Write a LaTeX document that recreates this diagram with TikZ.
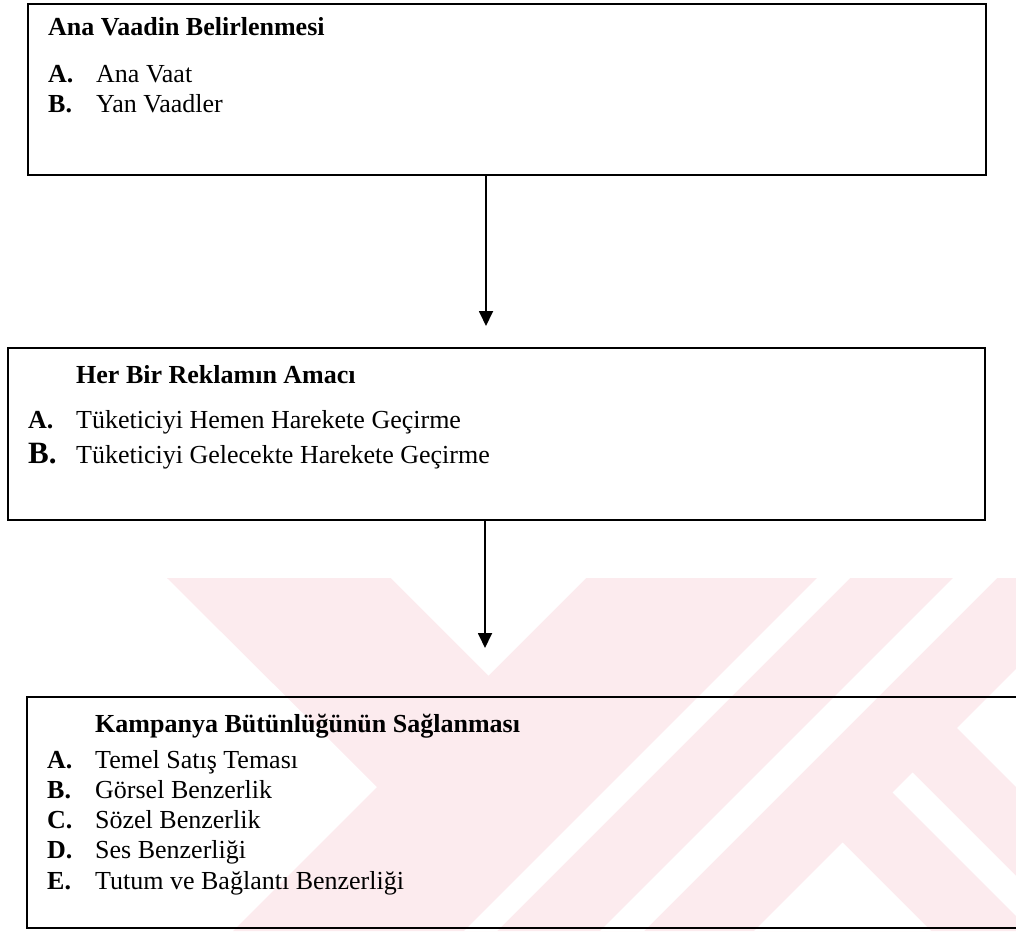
\documentclass[tikz,border=0pt]{standalone}
\usepackage{fontspec}
\setmainfont{Liberation Serif}
\usetikzlibrary{arrows.meta}
\definecolor{wm}{RGB}{252,235,238}
\begin{document}
\begin{tikzpicture}[x=1pt,y=-1pt,
  box/.style={draw=black, line width=1.8pt, inner sep=0pt, anchor=north west},
  lbl/.style={anchor=base west, inner sep=0pt, font=\fontsize{26}{30}\selectfont},
  ttl/.style={anchor=base west, inner sep=0pt, font=\fontsize{26}{30}\selectfont\bfseries},
  big/.style={anchor=base west, inner sep=0pt, font=\fontsize{31}{34}\selectfont\bfseries},
  conn/.style={line width=1.8pt, -{Triangle[width=14pt,length=15pt]}}]
\useasboundingbox (0,0) rectangle (1016,931);
\clip (0,0) rectangle (1016,931);
% watermark
\fill[wm] (167,578) -- (1016,578) -- (1016,931) -- (233,931) -- (377,787) -- cycle;
\fill[white] (391,578) -- (586,578) -- (488.5,675.5) -- cycle;
\fill[white] (817,578) -- (850,578) -- (497,931) -- (464,931) -- cycle;
\fill[white] (953,578) -- (997,578) -- (644,931) -- (600,931) -- cycle;
\fill[white] (842.5,842.5) -- (931,931) -- (754,931) -- cycle;
\fill[white] (892.5,792.5) -- (912.5,772.5) -- (1016,876) -- (1016,916) -- cycle;
\fill[white] (957,728) -- (1016,669) -- (1016,787) -- cycle;
% boxes
\node[box, minimum width=958pt, minimum height=171pt] (b1) at (27,3) {};
\node[box, minimum width=977pt, minimum height=172pt] (b2) at (7,347) {};
\node[box, minimum width=1010pt, minimum height=231pt] (b3) at (26,696) {};
% box 1 text
\node[ttl] (t1) at (48,36) {Ana Vaadin Belirlenmesi};
\node[ttl] (l1a) at (48,83) {A.};
\node[lbl] (i1a) at (96,83) {Ana Vaat};
\node[ttl] (l1b) at (48,113) {B.};
\node[lbl] (i1b) at (96,113) {Yan Vaadler};
% box 2 text
\node[ttl] (t2) at (76,383) {Her Bir Reklamın Amacı};
\node[ttl] (l2a) at (28,428) {A.};
\node[lbl] (i2a) at (76,428) {Tüketiciyi Hemen Harekete Geçirme};
\node[big] (l2b) at (28,463) {B.};
\node[lbl] (i2b) at (76,463) {Tüketiciyi Gelecekte Harekete Geçirme};
% box 3 text
\node[ttl] (t3) at (95,732) {Kampanya Bütünlüğünün Sağlanması};
\node[ttl] (l3a) at (47,768) {A.};
\node[lbl] (i3a) at (95,768) {Temel Satış Teması};
\node[ttl] (l3b) at (47,798) {B.};
\node[lbl] (i3b) at (95,798) {Görsel Benzerlik};
\node[ttl] (l3c) at (47,828) {C.};
\node[lbl] (i3c) at (95,828) {Sözel Benzerlik};
\node[ttl] (l3d) at (47,858) {D.};
\node[lbl] (i3d) at (95,858) {Ses Benzerliği};
\node[ttl] (l3e) at (47,889) {E.};
\node[lbl] (i3e) at (95,889) {Tutum ve Bağlantı Benzerliği};
% connectors
\coordinate (e1) at (486,326);
\coordinate (e2) at (485,648);
\draw[conn] (e1 |- b1.south) -- (e1);
\draw[conn] (e2 |- b2.south) -- (e2);
\end{tikzpicture}
\end{document}
